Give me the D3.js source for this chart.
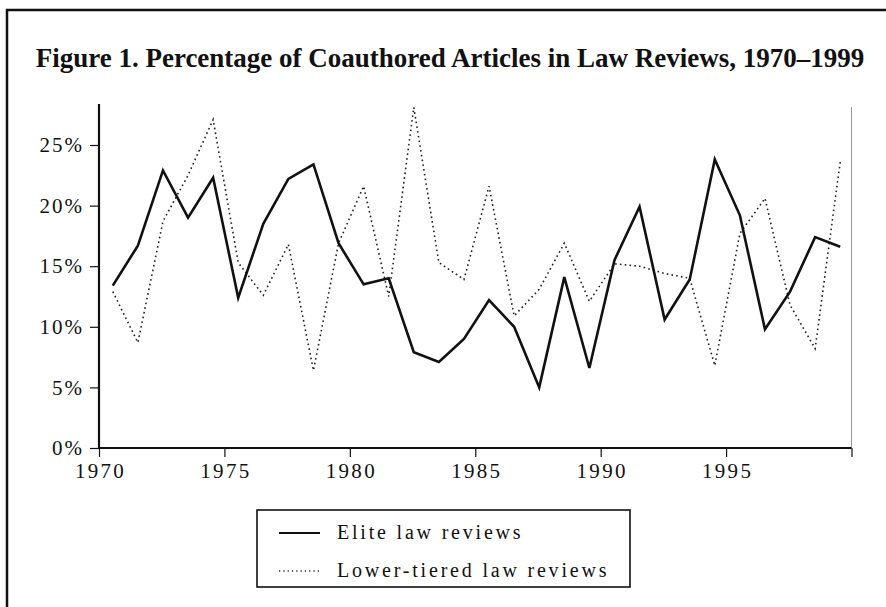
<!DOCTYPE html>
<html>
<head>
<meta charset="utf-8">
<script src="https://cdn.jsdelivr.net/npm/d3@7"></script>
<style>
  html, body { margin: 0; padding: 0; background: #fff; }
  svg { display: block; }
  .tick text { font-family: "Liberation Serif", "Times New Roman", serif; }
</style>
</head>
<body>
<script>
// ---- data ----
const years = [1970,1971,1972,1973,1974,1975,1976,1977,1978,1979,
               1980,1981,1982,1983,1984,1985,1986,1987,1988,1989,
               1990,1991,1992,1993,1994,1995,1996,1997,1998,1999];
const elite = [13.4,16.7,22.9,19.0,22.3,12.4,18.5,22.2,23.4,16.9,
               13.5,14.0,7.9,7.1,9.0,12.2,10.0,5.0,14.1,6.6,
               15.5,19.9,10.6,13.9,23.8,19.2,9.8,12.9,17.4,16.6];
const lower = [12.9,8.7,18.7,22.5,27.1,15.3,12.6,16.8,6.4,16.9,
               21.6,12.5,28.1,15.3,13.9,21.6,10.9,13.1,16.9,12.1,
               15.2,15.0,14.4,14.0,6.8,17.7,20.6,11.8,8.2,23.6];
const yTicks = [0,5,10,15,20,25];
const yTickLabels = ["0%","5%","10%","15%","20%","25%"];
const xTicks = [1970,1975,1980,1985,1990,1995,2000];
const xTickLabels = ["1970","1975","1980","1985","1990","1995",""];
const seriesNames = ["Elite law reviews","Lower-tiered law reviews"];
const title = "Figure 1. Percentage of Coauthored Articles in Law Reviews, 1970\u20131999";

const W = 886, H = 607;
const svg = d3.select("body").append("svg").attr("width", W).attr("height", H);

// outer frame
svg.append("rect").attr("x", 7).attr("y", 10).attr("width", W + 20).attr("height", H + 20)
  .attr("fill", "none").attr("stroke", "#111").attr("stroke-width", 2.5);

// title
svg.append("text").attr("x", 450).attr("y", 67).attr("text-anchor", "middle")
  .attr("font-family", "Liberation Serif, Times New Roman, serif")
  .attr("font-weight", "bold").attr("font-size", 27).attr("fill", "#111")
  .text(title);

const x = d3.scaleLinear().domain([1970, 2000]).range([99, 851.5]);
const y = d3.scaleLinear().domain([0, 25]).range([448, 145]);
const off = 0.55; // points sit within each year

// right border (thin grey)
svg.append("line").attr("x1", x(2000)).attr("x2", x(2000)).attr("y1", 107).attr("y2", y(0))
  .attr("stroke", "#999").attr("stroke-width", 1);

// y axis
const yAxis = d3.axisLeft(y).tickValues(yTicks).tickSize(9).tickPadding(6)
  .tickFormat((d, i) => yTickLabels[i]);
const gy = svg.append("g").attr("transform", `translate(${x(1970)},0)`).call(yAxis);
gy.select(".domain").remove();
gy.selectAll(".tick line").attr("stroke", "#111").attr("stroke-width", 1.2);
gy.selectAll(".tick text").attr("font-size", 21).attr("fill", "#111")
  .attr("letter-spacing", "2px").attr("dy", "0.32em");
svg.append("line").attr("x1", x(1970)).attr("x2", x(1970)).attr("y1", 104).attr("y2", y(0) + 1)
  .attr("stroke", "#111").attr("stroke-width", 2.2);

// x axis
const xAxis = d3.axisBottom(x).tickValues(xTicks).tickSize(9).tickPadding(6)
  .tickFormat((d, i) => xTickLabels[i]);
const gx = svg.append("g").attr("transform", `translate(0,${y(0)})`).call(xAxis);
gx.select(".domain").remove();
gx.selectAll(".tick line").attr("stroke", "#111").attr("stroke-width", 1.2);
gx.selectAll(".tick text").attr("font-size", 21).attr("fill", "#111")
  .attr("letter-spacing", "2.3px").attr("dx", "1px");
svg.append("line").attr("x1", x(1970) - 1).attr("x2", x(2000)).attr("y1", y(0)).attr("y2", y(0))
  .attr("stroke", "#111").attr("stroke-width", 2.2);

// lines
const line = d3.line().x(d => x(d[0] + off)).y(d => y(d[1]));
svg.append("path").datum(years.map((yr, i) => [yr, lower[i]]))
  .attr("d", line).attr("fill", "none").attr("stroke", "#222")
  .attr("stroke-width", 1.6).attr("stroke-dasharray", "1.6,3.2");
svg.append("path").datum(years.map((yr, i) => [yr, elite[i]]))
  .attr("d", line).attr("fill", "none").attr("stroke", "#111")
  .attr("stroke-width", 2.6).attr("stroke-linejoin", "miter");

// legend
const lg = svg.append("g");
lg.append("rect").attr("x", 257).attr("y", 510).attr("width", 373).attr("height", 77)
  .attr("fill", "none").attr("stroke", "#111").attr("stroke-width", 1.6);
const rows = [533, 571];
seriesNames.forEach((name, i) => {
  const ln = lg.append("line").attr("x1", 279).attr("x2", 320).attr("y1", rows[i]).attr("y2", rows[i])
    .attr("stroke", "#111");
  if (i === 0) ln.attr("stroke-width", 2.2);
  else ln.attr("stroke-width", 1.3).attr("stroke-dasharray", "1.3,3").attr("stroke", "#333");
  lg.append("text").attr("x", 337).attr("y", rows[i]).attr("dy", "0.32em")
    .attr("font-family", "Liberation Serif, Times New Roman, serif")
    .attr("font-size", 20).attr("letter-spacing", "2.8px").attr("fill", "#111")
    .text(name);
});
</script>
</body>
</html>
